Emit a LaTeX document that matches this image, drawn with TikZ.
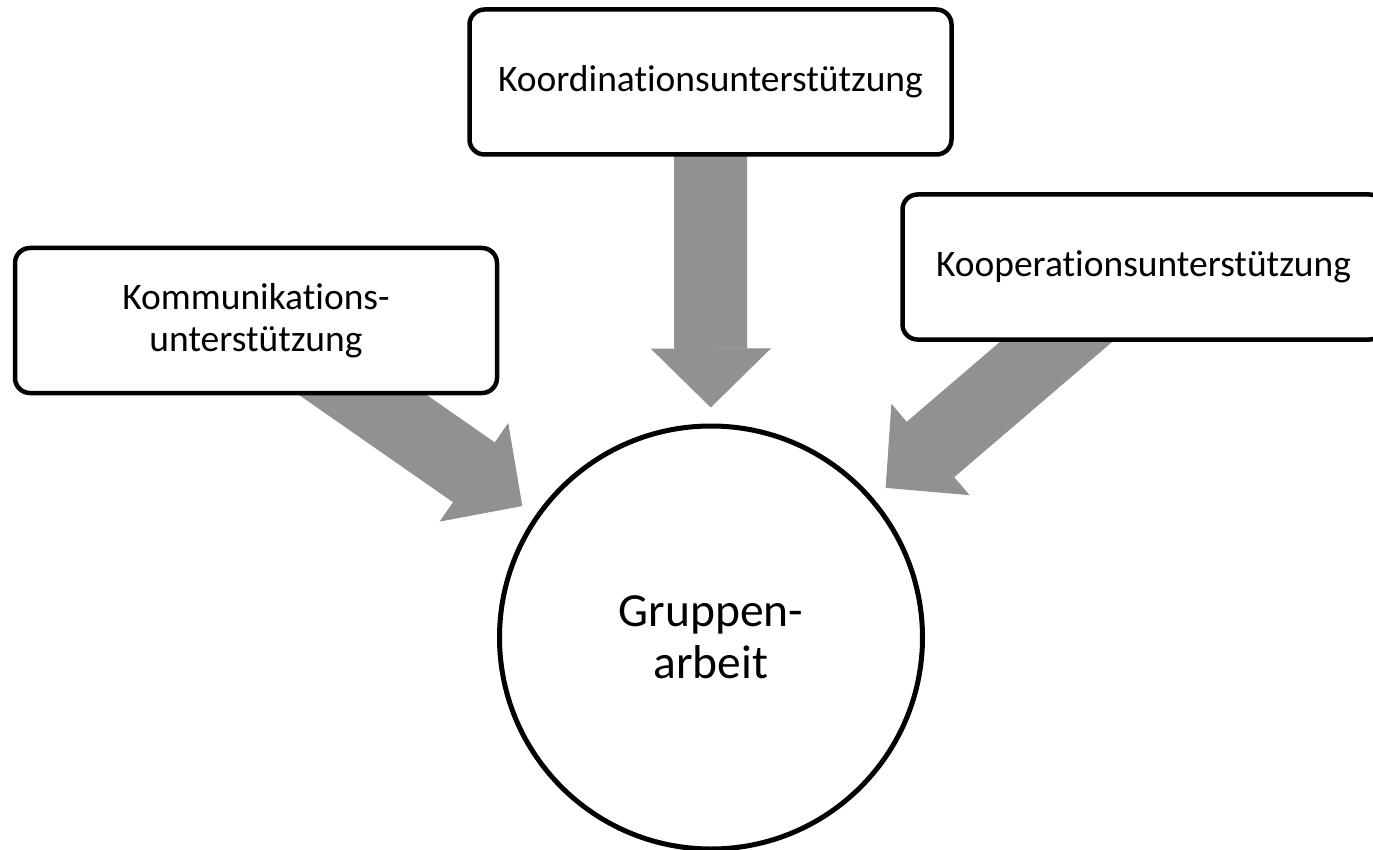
\documentclass[tikz,border=0pt]{standalone}
\usepackage{fontspec}
\setmainfont{Carlito}[Ligatures=NoCommon]
\usetikzlibrary{arrows.meta, backgrounds}

\definecolor{pfeilgrau}{RGB}{145,145,145}

\tikzset{
    kasten/.style={draw, line width=4.5pt, rounded corners=15pt, fill=white,
        minimum width=482pt, minimum height=145pt, align=center,
        font=\fontsize{37.5}{42}\selectfont},
    kreis/.style={draw, circle, line width=5pt, fill=white, minimum size=423pt,
        align=center, font=\fontsize{47.5}{51.5}\selectfont},
    blockpfeil/.style={pfeilgrau, line width=73pt,
        -{Triangle[length=59pt 0 0, width=120pt 0 0, line width=1pt]},
        shorten >=16pt}
}

\begin{document}
\begin{tikzpicture}[x=1pt, y=-1pt]
    \useasboundingbox (0,0) rectangle (1373,850);
    % Kaesten
    \node[kasten] (koord) at (710.5,82) {Koordinationsunterstützung};
    \node[kasten] (komm) at (256,320.5) {Kommunikations-\\unterstützung};
    \node[kasten] (koop) at (1143.5,267) {Kooperationsunterstützung};
    % Gruppenarbeit
    \node[kreis] (grp) at (711,637.5) {Gruppen-\\arbeit};
    % Pfeile
    \begin{scope}[on background layer]
        \draw[blockpfeil] (koord.center) -- (grp);
        \draw[blockpfeil] (komm.center) -- (grp);
        \draw[blockpfeil] (koop.center) -- (grp);
    \end{scope}
\end{tikzpicture}
\end{document}
